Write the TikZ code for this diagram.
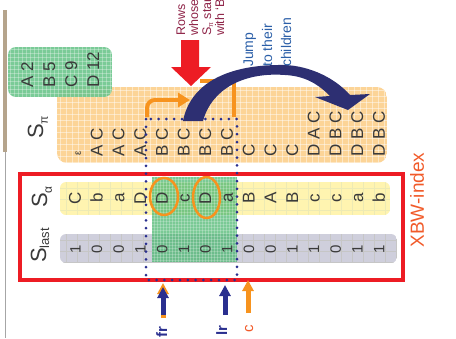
\documentclass[tikz,border=0pt]{standalone}
\usepackage{fontspec}
\setmainfont{Liberation Sans}
\usetikzlibrary{arrows.meta}
\definecolor{navyc}{HTML}{2D2F72}
\definecolor{dotc}{HTML}{2A2F8F}
\definecolor{redc}{HTML}{ED1C24}
\definecolor{orc}{HTML}{F7931E}
\definecolor{xbwc}{HTML}{F15A29}
\definecolor{maroonc}{HTML}{8E2347}
\definecolor{jumpc}{HTML}{2B5FA8}
\definecolor{txtc}{HTML}{3A3A3A}
\definecolor{orbox}{HTML}{FCD497}
\definecolor{grbox}{HTML}{6CC58C}
\definecolor{yebox}{HTML}{FFF4B0}
\definecolor{gybox}{HTML}{CFCFDC}
\definecolor{band}{HTML}{4DB872}
\definecolor{tanc}{HTML}{B5A48C}
\newcommand\myfs[1]{\fontsize{#1}{#1}\selectfont}
\begin{document}
\begin{tikzpicture}[x=1pt,y=-1pt,
  rowtxt/.style={rotate=90, inner sep=0pt, text=txtc, font=\myfs{17}},
  digtxt/.style={rotate=90, inner sep=0pt, text=txtc, font=\myfs{15}},
  lbltxt/.style={rotate=90, inner sep=0pt, text=txtc, font=\myfs{22}},
  uparrow/.style={line width=5pt, -{Triangle[width=11pt,length=11pt]}},
  texline/.style={line width=.8pt, white, opacity=.45}]
\useasboundingbox (0,0) rectangle (456,338);
\clip (0,0) rectangle (456,338);
% left border line
\draw[tanc, line width=4pt] (5,10) -- (5,152);
\draw[gray!70, line width=1pt] (5,152) -- (5,338);
% orange box S_pi
\begin{scope}
\clip[rounded corners=10pt] (57,87) rectangle (387,163);
\fill[orbox] (57,87) rectangle (387,163);
\foreach \g in {60,66,...,384} \draw[texline] (\g,87) -- (\g,163);
\foreach \g in {90,96,...,162} \draw[texline] (57,\g) -- (387,\g);
\end{scope}
% green box top left
\begin{scope}
\clip[rounded corners=8pt] (8,47) rectangle (112,97);
\fill[grbox, opacity=.9] (8,47) rectangle (112,97);
\foreach \g in {10,14,...,110} \draw[texline, opacity=.3] (\g,47) -- (\g,97);
\foreach \g in {49,53,...,97} \draw[texline, opacity=.3] (8,\g) -- (112,\g);
\end{scope}
\foreach \lbl [count=\j from 0] in {A 2,B 5,C 9,D 12}{
  \pgfmathsetmacro\xx{33+22*\j}
  \node[rowtxt, anchor=base west] (g\j) at (\xx,88) {\lbl};
}
% S_pi rows
\node[rowtxt, font=\myfs{10}, anchor=base west] (pi0) at (81,156) {ε};
\foreach \lbl [count=\i from 1] in {A C,A C,A C,B C,B C,B C,B C,C,C,C,D A C,D B C,D B C,D B C}{
  \pgfmathsetmacro\xx{75.5+21.7*\i+5.5}
  \node[rowtxt, anchor=base west] (pi\i) at (\xx,157) {\lbl};
}
\node[lbltxt, anchor=base west] (spi) at (43,139) {S\raisebox{-5pt}{\myfs{12}π}};
% yellow box S_alpha
\begin{scope}
\clip[rounded corners=6pt] (60,182) rectangle (390,215);
\fill[yebox] (60,182) rectangle (390,215);
\foreach \g in {66,77,...,390} \draw[line width=.5pt, yellow!60!gray!40] (\g,182) -- (\g,215);
\foreach \g in {188,199,210} \draw[line width=.5pt, yellow!60!gray!40] (60,\g) -- (390,\g);
\end{scope}
% gray box S_last
\begin{scope}
\clip[rounded corners=6pt] (60,234) rectangle (397,263);
\fill[gybox] (60,234) rectangle (397,263);
\foreach \g in {66,77,...,397} \draw[line width=.6pt, gray!45] (\g,234) -- (\g,263);
\foreach \g in {240,251,262} \draw[line width=.6pt, gray!45] (60,\g) -- (397,\g);
\end{scope}
% green band
\begin{scope}
\clip (152,177) rectangle (237,262);
\fill[band, opacity=.75] (152,177) rectangle (237,262);
\foreach \g in {154,157,...,237} \draw[texline, opacity=.25] (\g,177) -- (\g,262);
\foreach \g in {179,182,...,262} \draw[texline, opacity=.2] (152,\g) -- (237,\g);
\end{scope}
\foreach \lbl [count=\i from 0] in {C,b,a,D,D,c,D,a,B,A,B,c,c,a,b}{
  \pgfmathsetmacro\xx{75.5+21.7*\i+5.5}
  \node[rowtxt, anchor=base] (al\i) at (\xx,198) {\lbl};
}
\foreach \lbl [count=\i from 0] in {1,0,0,1,0,1,0,1,0,0,1,1,0,1,1}{
  \pgfmathsetmacro\xx{75.5+21.7*\i+5}
  \node[digtxt, anchor=base] (la\i) at (\xx,249) {\lbl};
}
\node[lbltxt, anchor=base west] (sal) at (47,208) {S\raisebox{-5pt}{\myfs{12}α}};
\node[lbltxt, anchor=base west] (sla) at (46,263) {S\raisebox{-3pt}{\myfs{13}last}};
% circles
\draw[orc, line width=2.5pt] (164,196.5) ellipse [x radius=14, y radius=18.5];
\draw[orc, line width=2.5pt] (206.5,197.5) ellipse [x radius=13.5, y radius=20.5];
% red XBW box
\draw[redc, line width=4pt] (20,174) rectangle (403,280);
\node[rotate=90, inner sep=0pt, text=xbwc, font=\myfs{19}] (xbw) at (417,200) {XBW-index};
% dotted rectangle
\draw[dotc, line width=3pt, line cap=round, dash pattern=on 0pt off 7.8pt] (146,119) rectangle (237,280);
% bottom arrows
\coordinate (fo1) at (163,318); \coordinate (fo2) at (163,283);
\coordinate (fn1) at (163,315); \coordinate (fn2) at (163,287);
\coordinate (ln1) at (225,315); \coordinate (ln2) at (225,285);
\coordinate (co1) at (248,313); \coordinate (co2) at (248,280);
\draw[orc, uparrow] (fo1) -- (fo2);
\draw[dotc, uparrow] (fn1) -- (fn2);
\draw[dotc, uparrow] (ln1) -- (ln2);
\draw[orc, uparrow] (co1) -- (co2);
\node[rotate=90, inner sep=0pt, text=dotc, font=\myfs{15}\bfseries, anchor=base west] (fr) at (167,338) {fr};
\node[rotate=90, inner sep=0pt, text=dotc, font=\myfs{15}\bfseries, anchor=base west] (lr) at (227,336) {lr};
\node[rotate=90, inner sep=0pt, text=xbwc, font=\myfs{15}, anchor=base west] (cc) at (253,333) {c};
% red arrow
\fill[redc] (181,40) -- (199,40) -- (199,67) -- (211,67) -- (191,86) -- (171,67) -- (181,67) -- cycle;
\node[rotate=90, inner sep=0pt, text=maroonc, font=\myfs{12.5}, anchor=base west] (t1) at (185,36) {Rows};
\node[rotate=90, inner sep=0pt, text=maroonc, font=\myfs{12.5}, anchor=base west] (t2) at (198,36) {whose};
\node[rotate=90, inner sep=0pt, text=maroonc, font=\myfs{12.5}, anchor=base west] (t3) at (211,36) {S\raisebox{-2pt}{\myfs{7}π} starts};
\node[rotate=90, inner sep=0pt, text=maroonc, font=\myfs{12.5}, anchor=base west] (t4) at (224,36) {with ‘B’};
% orange small arrow and bracket
\coordinate (oa1) at (147,117); \coordinate (oa2) at (147,100); \coordinate (oa3) at (190,100);
\draw[orc, line width=4pt, rounded corners=8pt, -{Triangle[width=14pt,length=12pt]}] (oa1) -- (oa2) -- (oa3);
\coordinate (ob1) at (200,81); \coordinate (ob2) at (234,81); \coordinate (ob3) at (234,117);
\draw[orc, line width=4pt] (ob1) -- (ob2) -- (ob3);
% navy curved arrow
\fill[navyc] (183,121) .. controls (190,85) and (225,64) .. (285,65)
  .. controls (310,66) and (335,78) .. (350,95) -- (370,94) -- (348,110) -- (315,97) -- (330,96)
  .. controls (318,84) and (305,76) .. (285,75)
  .. controls (245,72) and (212,88) .. (203,121) -- cycle;
% jump text
\node[rotate=90, inner sep=0pt, text=jumpc, font=\myfs{14}, anchor=base west] (j1) at (253,67) {Jump};
\node[rotate=90, inner sep=0pt, text=jumpc, font=\myfs{14}, anchor=base west] (j2) at (272,67) {to their};
\node[rotate=90, inner sep=0pt, text=jumpc, font=\myfs{14}, anchor=base west] (j3) at (291,67) {children};
\end{tikzpicture}
\end{document}
